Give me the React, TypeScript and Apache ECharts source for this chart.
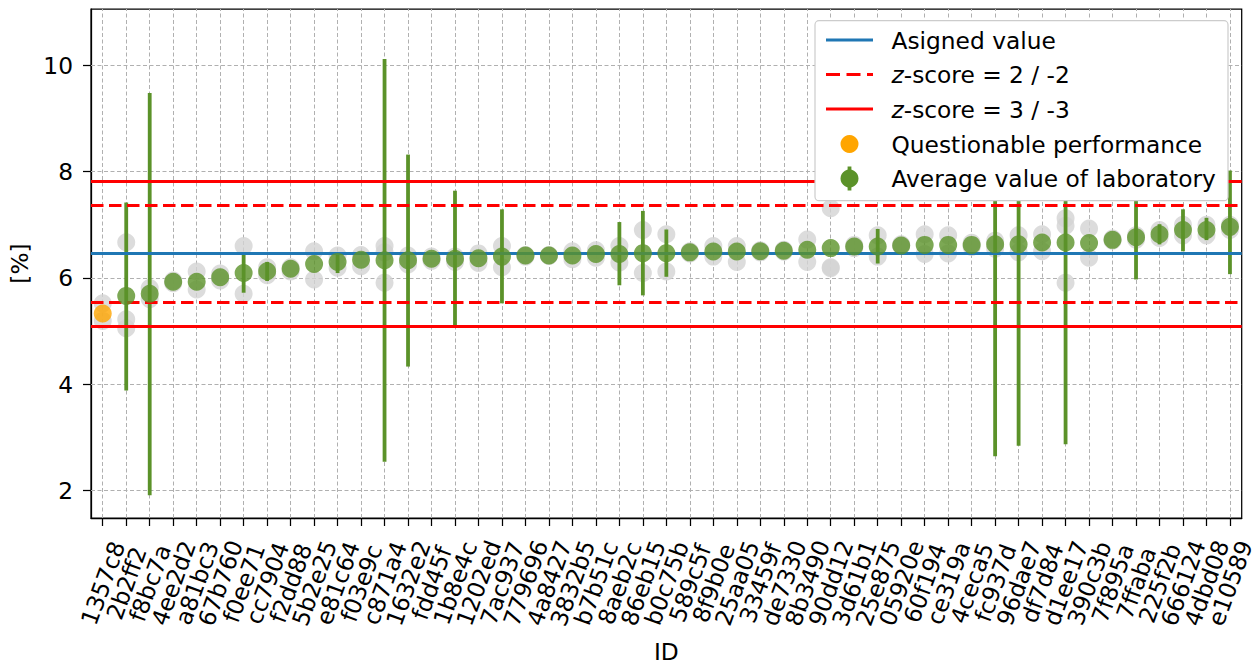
import { useEffect, useRef } from "react";
import * as echarts from "echarts";

// Laboratory IDs, in plotting order
const IDS = [
  "1357c8", "2b2ff2", "f8bc7a", "4ee2d2", "a81bc3", "67b760", "f0ee71", "cc7904",
  "f2dd88", "5b2e25", "e81c64", "f03e9c", "c871a4", "1632e2", "fdd45f", "1b8e4c",
  "1202ed", "7ac937", "779696", "4a8427", "3832b5", "b7b51c", "8aeb2c", "86eb15",
  "b0c75b", "589c5f", "8f9b0e", "25aa05", "33459f", "de7330", "8b3490", "90dd12",
  "3d61b1", "25e875", "05920e", "60f194", "ce319a", "4ceca5", "fc937d", "96dae7",
  "df7d84", "d1ee17", "390c3b", "7f895a", "7ffaba", "225f2b", "666124", "4dbd08",
  "e10589",
];

// Average value of each laboratory [%]
const MEANS = [
  5.33, 5.66, 5.7, 5.925, 5.925, 6.01, 6.09, 6.125,
  6.17, 6.26, 6.3, 6.34, 6.33, 6.33, 6.36, 6.36,
  6.37, 6.4, 6.42, 6.42, 6.42, 6.45, 6.45, 6.465,
  6.465, 6.48, 6.495, 6.495, 6.5, 6.51, 6.53, 6.56,
  6.59, 6.59, 6.61, 6.62, 6.62, 6.62, 6.63, 6.63,
  6.665, 6.665, 6.655, 6.715, 6.765, 6.82, 6.9, 6.9,
  6.96,
];

// Uncertainty interval of each laboratory (null = not reported)
const ERR_LOW = [
  null, 3.88, 1.91, null, null, null, 5.72, 5.94,
  null, null, 6.09, null, 2.54, 4.33, null, 5.09,
  null, 5.52, null, null, null, null, 5.86, 5.67,
  6.02, null, null, null, null, null, null, null,
  null, 6.27, null, null, null, null, 2.64, 2.84,
  null, 2.87, null, null, 5.97, 6.63, 6.5, 6.71,
  6.07,
];
const ERR_HIGH = [
  null, 7.42, 9.48, null, null, null, 6.46, 6.3,
  null, null, 6.43, null, 10.12, 8.32, null, 7.64,
  null, 7.29, null, null, null, null, 7.05, 7.26,
  6.91, null, null, null, null, null, null, null,
  null, 6.92, null, null, null, null, 10.63, 10.43,
  null, 10.46, null, null, 7.56, 7.01, 7.29, 7.13,
  8.02,
];

// Individual replicate results of each laboratory [%]
const REPLICATES = [
  [5.52, 5.19], [6.67, 5.22, 5.05], [5.81, 5.6], [5.95, 5.9], [6.12, 5.78], [6.08, 5.95], [6.6, 5.7], [6.2, 6.05],
  [6.2, 6.12], [6.5, 5.97], [6.42, 6.19], [6.43, 6.22], [6.6, 6.48, 5.91], [6.42, 6.25], [6.4, 6.32], [6.4, 6.3],
  [6.46, 6.28], [6.6, 6.2], [6.43, 6.4], [6.43, 6.41], [6.5, 6.35], [6.52, 6.38], [6.6, 6.29], [6.9, 6.09],
  [6.82, 6.12], [6.5, 6.46], [6.6, 6.4], [6.6, 6.3], [6.52, 6.48], [6.53, 6.49], [6.72, 6.3], [7.31, 6.2, 6.18],
  [6.62, 6.56], [6.8, 6.4], [6.63, 6.6], [6.82, 6.45], [6.8, 6.46], [6.66, 6.58], [6.7, 6.55], [6.8, 6.48],
  [6.82, 6.5], [7.12, 6.98, 5.91], [6.93, 6.38], [6.74, 6.7], [6.8, 6.72], [6.9, 6.75], [7.0, 6.8], [7.0, 6.8],
  [7.0, 6.9],
];

const QUESTIONABLE_IDS = ["1357c8"];

// Assigned value and standard deviation for proficiency assessment
const ASSIGNED = 6.455;
const SIGMA = 0.455;

const Y_MIN = 1.48;
const Y_MAX = 11.06;
const Y_TICKS = [2, 4, 6, 8, 10];

const FONT = "DejaVu Sans";
const FS = 23.3;
const GREEN = "#5b9229";
const GRAY = "#d3d3d3";
const ORANGE = "#ffa500";
const BLUE = "#1f77b4";
const RED = "#ff0000";
const GRID = "#b0b0b0";

const DASH = [12.5, 5.5];

export default function App() {
  const ref = useRef<HTMLDivElement>(null);

  useEffect(() => {
    if (!ref.current) return;
    const chart = echarts.init(ref.current, null, { renderer: "svg" });
    const idx = IDS.map((_, i) => i);

    const replicatePts: number[][] = [];
    REPLICATES.forEach((vals, i) => vals.forEach((v) => replicatePts.push([i, v])));

    const okPts: number[][] = [];
    const badPts: number[][] = [];
    MEANS.forEach((m, i) => {
      if (QUESTIONABLE_IDS.includes(IDS[i])) badPts.push([i, m]);
      else okPts.push([i, m]);
    });

    const errPts: number[][] = [];
    idx.forEach((i) => {
      const lo = ERR_LOW[i];
      const hi = ERR_HIGH[i];
      if (lo != null && hi != null) errPts.push([i, lo, hi]);
    });

    const textStyle = { fontFamily: FONT, fontSize: FS, color: "#000" };

    const legendRows = [40, 74.5, 109, 144, 178.5];
    const legX = 891.5;
    const sx1 = 826;
    const sx2 = 873;
    const scx = (sx1 + sx2) / 2;
    const LZ = 100;
    const legText = (y: number, text: string) => ({
      type: "text",
      z: LZ + 1,
      x: legX,
      y,
      style: {
        text,
        fill: "#000",
        fontSize: FS,
        fontFamily: FONT,
        verticalAlign: "middle",
        align: "left",
        rich: {
          i: { fontStyle: "italic", fontSize: FS, fontFamily: FONT, fill: "#000" },
        },
      },
    });

    chart.setOption({
      animation: false,
      grid: {
        left: 90.3,
        right: 15.3,
        top: 9,
        bottom: 145.7,
        show: true,
        borderColor: "#000",
        borderWidth: 1.25,
        backgroundColor: "transparent",
      },
      xAxis: {
        type: "category",
        data: IDS,
        boundaryGap: true,
        axisLine: { show: true, onZero: false, lineStyle: { color: "#000", width: 1.25 } },
        splitLine: { show: false },
        axisTick: {
          show: true,
          alignWithLabel: true,
          interval: 0,
          length: 8,
          lineStyle: { color: "#000", width: 1.25 },
        },
        axisLabel: {
          interval: 0,
          rotate: 70,
          align: "center",
          verticalAlign: "middle",
          margin: 65,
          ...textStyle,
        },
        name: "ID",
        nameLocation: "middle",
        nameGap: 122,
        nameTextStyle: textStyle,
      },
      yAxis: {
        type: "value",
        min: Y_MIN,
        max: Y_MAX,
        axisLine: { show: true, onZero: false, lineStyle: { color: "#000", width: 1.25 } },
        splitLine: { show: false },
        axisTick: {
          show: true,
          customValues: Y_TICKS,
          length: 8,
          lineStyle: { color: "#000", width: 1.25 },
        },
        axisLabel: {
          customValues: Y_TICKS,
          margin: 18,
          ...textStyle,
        },
        name: "[%]",
        nameLocation: "middle",
        nameGap: 60,
        nameTextStyle: textStyle,
      },
      series: [
        {
          // grid lines
          type: "line",
          data: [],
          silent: true,
          markLine: {
            z: 1,
            silent: true,
            symbol: ["none", "none"],
            label: { show: false },
            emphasis: { disabled: true },
            lineStyle: { color: GRID, width: 1, type: [4, 2.5] },
            data: [
              ...idx.map((i) => ({ xAxis: i })),
              ...Y_TICKS.map((v) => ({ yAxis: v })),
            ],
          },
        },
        {
          name: "Replicates",
          type: "scatter",
          data: replicatePts,
          symbol: "circle",
          symbolSize: 18,
          itemStyle: { color: GRAY },
          z: 2,
          silent: true,
        },
        {
          name: "Uncertainty",
          type: "custom",
          data: errPts,
          encode: { x: 0, y: [1, 2] },
          z: 3,
          silent: true,
          renderItem: (_params: any, api: any) => {
            const x = api.value(0);
            const lo = api.coord([x, api.value(1)]);
            const hi = api.coord([x, api.value(2)]);
            return {
              type: "line",
              shape: { x1: lo[0], y1: lo[1], x2: hi[0], y2: hi[1] },
              style: { stroke: GREEN, lineWidth: 3.8 },
            };
          },
        },
        {
          // assigned value and z-score limits
          type: "line",
          data: [],
          silent: true,
          markLine: {
            z: 4,
            silent: true,
            symbol: ["none", "none"],
            label: { show: false },
            emphasis: { disabled: true },
            data: [
              { yAxis: ASSIGNED, lineStyle: { color: BLUE, width: 3, type: "solid" } },
              { yAxis: ASSIGNED + 2 * SIGMA, lineStyle: { color: RED, width: 3, type: DASH } },
              { yAxis: ASSIGNED - 2 * SIGMA, lineStyle: { color: RED, width: 3, type: DASH } },
              { yAxis: ASSIGNED + 3 * SIGMA, lineStyle: { color: RED, width: 3, type: "solid" } },
              { yAxis: ASSIGNED - 3 * SIGMA, lineStyle: { color: RED, width: 3, type: "solid" } },
            ],
          },
        },
        {
          name: "Average value of laboratory",
          type: "scatter",
          data: okPts,
          symbol: "circle",
          symbolSize: 18,
          itemStyle: { color: GREEN },
          z: 5,
          silent: true,
        },
        {
          name: "Questionable performance",
          type: "scatter",
          data: badPts,
          symbol: "circle",
          symbolSize: 18,
          itemStyle: { color: ORANGE },
          z: 6,
          silent: true,
        },
      ],
      graphic: [
        {
          type: "rect",
          z: LZ,
          shape: { x: 815, y: 20.7, width: 413, height: 180, r: 4 },
          style: { fill: "#ffffff", stroke: "#cccccc", lineWidth: 1.2 },
        },
        {
          type: "line",
          z: LZ + 1,
          shape: { x1: sx1, y1: legendRows[0], x2: sx2, y2: legendRows[0] },
          style: { stroke: BLUE, lineWidth: 3 },
        },
        {
          type: "line",
          z: LZ + 1,
          shape: { x1: sx1, y1: legendRows[1], x2: sx2, y2: legendRows[1] },
          style: { stroke: RED, lineWidth: 3, lineDash: [14, 6.5] },
        },
        {
          type: "line",
          z: LZ + 1,
          shape: { x1: sx1, y1: legendRows[2], x2: sx2, y2: legendRows[2] },
          style: { stroke: RED, lineWidth: 3 },
        },
        {
          type: "circle",
          z: LZ + 1,
          shape: { cx: scx, cy: legendRows[3], r: 9 },
          style: { fill: ORANGE },
        },
        {
          type: "line",
          z: LZ + 1,
          shape: { x1: scx, y1: legendRows[4] - 12, x2: scx, y2: legendRows[4] + 12 },
          style: { stroke: GREEN, lineWidth: 3.8 },
        },
        {
          type: "circle",
          z: LZ + 2,
          shape: { cx: scx, cy: legendRows[4], r: 9 },
          style: { fill: GREEN },
        },
        legText(legendRows[0], "Asigned value"),
        legText(legendRows[1], "{i|z}-score = 2 / -2"),
        legText(legendRows[2], "{i|z}-score = 3 / -3"),
        legText(legendRows[3], "Questionable performance"),
        legText(legendRows[4], "Average value of laboratory"),
      ],
    });

    return () => chart.dispose();
  }, []);

  return (
    <div
      ref={ref}
      style={{ position: "absolute", left: 0, top: 0, width: 1257, height: 668, background: "#fff" }}
    />
  );
}
